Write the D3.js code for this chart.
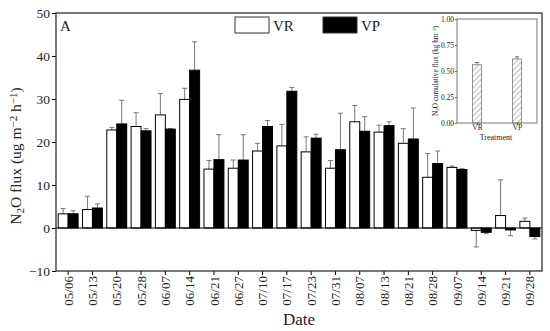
<!DOCTYPE html>
<html>
<head>
<meta charset="utf-8">
<script src="https://d3js.org/d3.v7.min.js"></script>
<style>
  body { margin: 0; background: #fff; }
  svg text { font-family: "Liberation Serif", "DejaVu Serif", serif; fill: #222; }
</style>
</head>
<body>
<div id="chart"></div>
<script>
(function(d3) {
  'use strict';

  // sampling dates
  var dates = ['05/06','05/13','05/20','05/28','06/07','06/14','06/21','06/27','07/10','07/17',
               '07/23','07/31','08/07','08/13','08/21','08/28','09/07','09/14','09/21','09/28'];
  var vrFlux = [3.3, 4.3, 22.8, 23.6, 26.3, 29.9, 13.7, 13.9, 17.9, 19.1,
                17.7, 13.9, 24.7, 22.3, 19.7, 11.8, 14.1, -0.55, 2.9, 1.55];
  var vrErr  = [1.2, 3.1, 0.6, 3.2, 5.0, 2.6, 2.0, 1.9, 1.8, 5.0,
                3.5, 1.8, 3.8, 1.6, 3.4, 5.5, 0.3, 3.85, 8.3, 0.75];
  var vpFlux = [3.3, 4.65, 24.2, 22.6, 23.0, 36.7, 15.9, 15.8, 23.6, 31.8,
                20.9, 18.2, 22.5, 23.8, 20.7, 15.0, 13.6, -1.0, -0.45, -2.0];
  var vpErr  = [0.7, 0.95, 5.5, 0.5, 0.15, 6.6, 5.8, 5.9, 1.4, 0.9,
                0.9, 8.5, 3.4, 0.9, 7.2, 2.9, 0.2, 0.3, 1.35, 0.55];
  var yTicks = [-10, 0, 10, 20, 30, 40, 50];

  // inset: cumulative flux
  var treatments = ['VR', 'VP'];
  var cumFlux = [0.56, 0.615];
  var cumErr = [0.022, 0.022];
  var insetTicks = [0, 0.25, 0.5, 0.75, 1.0];

  var width = 550, height = 331;
  var left = 56, right = 542, top = 13, bottom = 271;

  var svg = d3.select('#chart').append('svg')
    .attr('width', width)
    .attr('height', height);

  var x = d3.scaleBand().domain(dates).range([left, right]).padding(0);
  var y = d3.scaleLinear().domain([-10, 50]).range([bottom, top]);
  var barW = x.step() * 0.41;

  var rows = dates.map(function(d, i) {
    return [
      { date: d, key: 'VR', v: vrFlux[i], e: vrErr[i], off: -barW },
      { date: d, key: 'VP', v: vpFlux[i], e: vpErr[i], off: 0 }
    ];
  });
  var bars = [].concat.apply([], rows);

  // axes
  var yAxis = svg.append('g')
    .attr('transform', 'translate(' + left + ',0)')
    .call(d3.axisLeft(y).tickValues(yTicks).tickSize(4).tickPadding(2));
  yAxis.select('.domain').remove();
  yAxis.selectAll('text').style('font-size', '13.5px');

  var xAxis = svg.append('g')
    .attr('transform', 'translate(0,' + bottom + ')')
    .call(d3.axisBottom(x).tickSize(4));
  xAxis.select('.domain').remove();
  xAxis.selectAll('text')
    .attr('transform', 'rotate(-90)')
    .attr('x', -5)
    .attr('y', 0)
    .attr('dy', '0.35em')
    .style('text-anchor', 'end')
    .style('font-size', '13px');

  // error bars (up for positive, down for negative)
  var eb = svg.selectAll('.err')
    .data(bars)
    .enter().append('g')
    .attr('class', 'err')
    .attr('stroke', '#777')
    .attr('stroke-width', 1);
  function tipY(d) { return y(d.v >= 0 ? d.v + d.e : d.v - d.e); }
  function cx(d) { return x(d.date) + x.bandwidth() / 2 + d.off + barW / 2; }
  eb.append('line')
    .attr('x1', cx).attr('x2', cx)
    .attr('y1', function(d) { return y(d.v); })
    .attr('y2', tipY);
  eb.append('line')
    .attr('x1', function(d) { return cx(d) - 2.5; })
    .attr('x2', function(d) { return cx(d) + 2.5; })
    .attr('y1', tipY).attr('y2', tipY);

  // bars
  svg.selectAll('.bar')
    .data(bars)
    .enter().append('rect')
    .attr('class', 'bar')
    .attr('x', function(d) { return x(d.date) + x.bandwidth() / 2 + d.off; })
    .attr('width', barW)
    .attr('y', function(d) { return y(Math.max(0, d.v)); })
    .attr('height', function(d) { return Math.abs(y(d.v) - y(0)); })
    .attr('fill', function(d) { return d.key === 'VR' ? '#fff' : '#000'; })
    .attr('stroke', '#000')
    .attr('stroke-width', 1);

  // zero line
  svg.append('line')
    .attr('x1', left).attr('x2', right)
    .attr('y1', y(0)).attr('y2', y(0))
    .attr('stroke', '#000').attr('stroke-width', 1.2);

  // frame
  svg.append('rect')
    .attr('x', left).attr('y', top)
    .attr('width', right - left).attr('height', bottom - top)
    .attr('fill', 'none').attr('stroke', '#333').attr('stroke-width', 1.3);

  svg.append('text').attr('x', 60).attr('y', 31)
    .style('font-size', '15px').text('A');

  // legend
  var legend = svg.selectAll('.legend')
    .data(treatments)
    .enter().append('g')
    .attr('class', 'legend')
    .attr('transform', function(d, i) { return 'translate(' + (235 + i * 88) + ',17)'; });
  legend.append('rect')
    .attr('width', 34).attr('height', 16)
    .attr('fill', function(d) { return d === 'VR' ? '#fff' : '#000'; })
    .attr('stroke', '#333').attr('stroke-width', 1);
  legend.append('text')
    .attr('x', 38).attr('y', 14)
    .style('font-size', '15px')
    .text(function(d) { return d; });

  // axis titles
  svg.append('text')
    .attr('x', 299).attr('y', 325)
    .attr('text-anchor', 'middle')
    .style('font-size', '17px')
    .text('Date');

  var yl = svg.append('text')
    .attr('transform', 'translate(21,156) rotate(-90)')
    .attr('text-anchor', 'middle')
    .style('font-size', '15.5px');
  yl.append('tspan').text('N');
  yl.append('tspan').attr('baseline-shift', '-25%').style('font-size', '11px').text('2');
  yl.append('tspan').text('O flux (ug m');
  yl.append('tspan').attr('baseline-shift', '40%').style('font-size', '11px').text('\u22122');
  yl.append('tspan').text(' h');
  yl.append('tspan').attr('baseline-shift', '40%').style('font-size', '11px').text('\u22121');
  yl.append('tspan').text(')');

  // ---- inset ----
  var iL = 457, iR = 537, iT = 19, iB = 123;
  var ix = d3.scalePoint().domain(treatments).range([iL, iR]).padding(0.5);
  var iy = d3.scaleLinear().domain([0, 1]).range([iB, iT]);
  var ibw = 9;

  var defs = svg.append('defs');
  var pat = defs.append('pattern')
    .attr('id', 'hatch')
    .attr('patternUnits', 'userSpaceOnUse')
    .attr('width', 4).attr('height', 4)
    .attr('patternTransform', 'rotate(45)');
  pat.append('rect').attr('width', 4).attr('height', 4).attr('fill', '#fff');
  pat.append('line')
    .attr('x1', 0).attr('y1', 0).attr('x2', 0).attr('y2', 4)
    .attr('stroke', '#777').attr('stroke-width', 1);

  var iya = svg.append('g')
    .attr('transform', 'translate(' + iL + ',0)')
    .call(d3.axisLeft(iy).tickValues(insetTicks).tickFormat(d3.format('.2f')).tickSize(2).tickPadding(1));
  iya.select('.domain').remove();
  iya.selectAll('text').style('font-size', '7.5px');
  iya.selectAll('line').attr('stroke', '#666');

  var ixa = svg.append('g')
    .attr('transform', 'translate(0,' + iB + ')')
    .call(d3.axisBottom(ix).tickSize(2).tickPadding(0));
  ixa.select('.domain').remove();
  ixa.selectAll('text').style('font-size', '7.5px');
  ixa.selectAll('line').attr('stroke', '#666');

  var ib = svg.selectAll('.ibar')
    .data(treatments)
    .enter().append('g')
    .attr('class', 'ibar');
  ib.append('line')
    .attr('x1', function(d) { return ix(d); })
    .attr('x2', function(d) { return ix(d); })
    .attr('y1', function(d, i) { return iy(cumFlux[i]); })
    .attr('y2', function(d, i) { return iy(cumFlux[i] + cumErr[i]); })
    .attr('stroke', '#777');
  ib.append('line')
    .attr('x1', function(d) { return ix(d) - 2; })
    .attr('x2', function(d) { return ix(d) + 2; })
    .attr('y1', function(d, i) { return iy(cumFlux[i] + cumErr[i]); })
    .attr('y2', function(d, i) { return iy(cumFlux[i] + cumErr[i]); })
    .attr('stroke', '#777');
  ib.append('rect')
    .attr('x', function(d) { return ix(d) - ibw / 2; })
    .attr('width', ibw)
    .attr('y', function(d, i) { return iy(cumFlux[i]); })
    .attr('height', function(d, i) { return iB - iy(cumFlux[i]); })
    .attr('fill', 'url(#hatch)')
    .attr('stroke', '#777').attr('stroke-width', 0.8);

  svg.append('rect')
    .attr('x', iL).attr('y', iT)
    .attr('width', iR - iL).attr('height', iB - iT)
    .attr('fill', 'none').attr('stroke', '#777').attr('stroke-width', 1);

  svg.append('text')
    .attr('x', 496).attr('y', 140)
    .attr('text-anchor', 'middle')
    .style('font-size', '8px')
    .text('Treatment');

  var il = svg.append('text')
    .attr('transform', 'translate(438,71) rotate(-90)')
    .attr('text-anchor', 'middle')
    .style('font-size', '7.2px');
  il.append('tspan').text('N');
  il.append('tspan').attr('baseline-shift', '-25%').style('font-size', '5px').text('2');
  il.append('tspan').text('O cumulative flux (kg hm');
  il.append('tspan').attr('baseline-shift', '40%').style('font-size', '5px').text('\u22122');
  il.append('tspan').text(')');

})(window.d3);
</script>
</body>
</html>
